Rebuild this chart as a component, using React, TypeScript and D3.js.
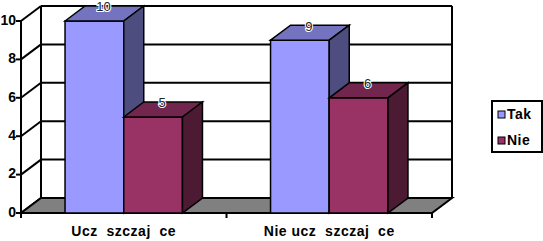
import React from "react";
import * as d3 from "d3";

const categories = ["Ucz  szczaj  ce", "Nie ucz  szczaj  ce"];
const seriesNames = ["Tak", "Nie"];
const takValues = [10, 9];
const nieValues = [5, 6];
const yTicks = [0, 2, 4, 6, 8, 10];

const W = 543;
const H = 241;
const frontLeft = 21;
const frontRight = 432;
const y0 = 213;
const y10 = 21;
const DX = 20;
const DY = -15;
const colors = ["#9999FF", "#993366"];
const font = "'Liberation Sans', Arial, sans-serif";

function shade(c: string, k: number) {
  const col = d3.rgb(c);
  return d3.rgb(col.r * k, col.g * k, col.b * k).formatHex();
}

export default function App() {
  const y = d3.scaleLinear().domain([0, 10]).range([y0, y10]);
  const x = d3.scaleBand<string>().domain(categories).range([frontLeft, frontRight]).padding(0);
  const bw = x.bandwidth();
  const barW = bw / 3.5;
  const xs = d3.scaleBand<string>().domain(seriesNames).range([bw / 2 - barW, bw / 2 + barW]).padding(0);
  const data = [takValues, nieValues];

  const line = (x1: number, y1: number, x2: number, y2: number, key: string, sw = 2) => (
    <line key={key} x1={x1} y1={y1} x2={x2} y2={y2} stroke="#000" strokeWidth={sw} />
  );

  const bars: React.ReactNode[] = [];
  const labels: React.ReactNode[] = [];
  categories.forEach((c, ci) => {
    seriesNames.forEach((s, si) => {
      const v = data[si][ci];
      const bx = (x(c) as number) + (xs(s) as number);
      const w = xs.bandwidth();
      const top = y(v);
      const col = colors[si];
      bars.push(
        <g key={`b${ci}${si}`} stroke="#000" strokeWidth={1.5} strokeLinejoin="miter">
          <rect x={bx} y={top} width={w} height={y0 - top} fill={col} />
          <polygon
            points={`${bx},${top} ${bx + DX},${top + DY} ${bx + w + DX},${top + DY} ${bx + w},${top}`}
            fill={shade(col, 0.75)}
          />
          <polygon
            points={`${bx + w},${top} ${bx + w + DX},${top + DY} ${bx + w + DX},${y0 + DY} ${bx + w},${y0}`}
            fill={shade(col, 0.5)}
          />
        </g>
      );
      labels.push(
        <text
          key={`l${ci}${si}`}
          x={bx + w / 2 + DX / 2 - 1}
          y={top + DY + 2}
          textAnchor="middle"
          dominantBaseline="middle"
          fontFamily={font}
          fontSize={13}
          fill="#222"
          stroke="#fff"
          strokeWidth={2}
          paintOrder="stroke"
        >
          {v}
        </text>
      );
    });
  });

  return (
    <svg width={W} height={H} style={{ position: "absolute", left: 0, top: 0, background: "#fff" }}>
      <rect x={frontLeft + DX} y={y10 + DY} width={frontRight - frontLeft} height={y0 - y10} fill="#fff" />
      {yTicks.map((t) => line(frontLeft + DX, y(t) + DY, frontRight + DX, y(t) + DY, `g${t}`))}
      {line(frontLeft + DX, y10 + DY, frontLeft + DX, y0 + DY, "bwl")}
      {line(frontRight + DX, y10 + DY, frontRight + DX, y0 + DY, "bwr")}
      {yTicks.map((t) => line(frontLeft, y(t), frontLeft + DX, y(t) + DY, `d${t}`))}
      <polygon
        points={`${frontLeft},${y0} ${frontRight},${y0} ${frontRight + DX},${y0 + DY} ${frontLeft + DX},${y0 + DY}`}
        fill="#808080"
        stroke="#000"
        strokeWidth={2}
      />
      {line(frontLeft, y10, frontLeft, y0 + 1, "ya")}
      {yTicks.map((t) => line(frontLeft - 5, y(t), frontLeft, y(t), `t${t}`))}
      {yTicks.map((t) => (
        <text
          key={`yl${t}`}
          x={frontLeft - 5}
          y={y(t)}
          textAnchor="end"
          dominantBaseline="middle"
          fontFamily={font}
          fontWeight="bold"
          fontSize={14}
          fill="#000"
        >
          {t}
        </text>
      ))}
      {[frontLeft, ...categories.map((c) => (x(c) as number) + bw)].map((px, i) =>
        line(px, y0, px, y0 + 5, `ct${i}`)
      )}
      {bars}
      {labels}
      {categories.map((c) => (
        <text
          key={c}
          x={(x(c) as number) + bw / 2}
          y={232}
          textAnchor="middle"
          dominantBaseline="middle"
          fontFamily={font}
          fontWeight="bold"
          fontSize={14}
          letterSpacing={0.5}
          fill="#000"
          style={{ whiteSpace: "pre" }}
        >
          {c}
        </text>
      ))}
      <rect x={492} y={101} width={50} height={51} fill="#fff" stroke="#000" strokeWidth={2} />
      {seriesNames.map((s, i) => (
        <g key={s}>
          <rect x={498} y={111 + i * 26} width={7} height={7} fill={colors[i]} stroke="#000" strokeWidth={1} />
          <text
            x={507}
            y={115 + i * 26}
            dominantBaseline="middle"
            fontFamily={font}
            fontWeight="bold"
            fontSize={14}
            letterSpacing={0.5}
            fill="#000"
          >
            {s}
          </text>
        </g>
      ))}
    </svg>
  );
}
